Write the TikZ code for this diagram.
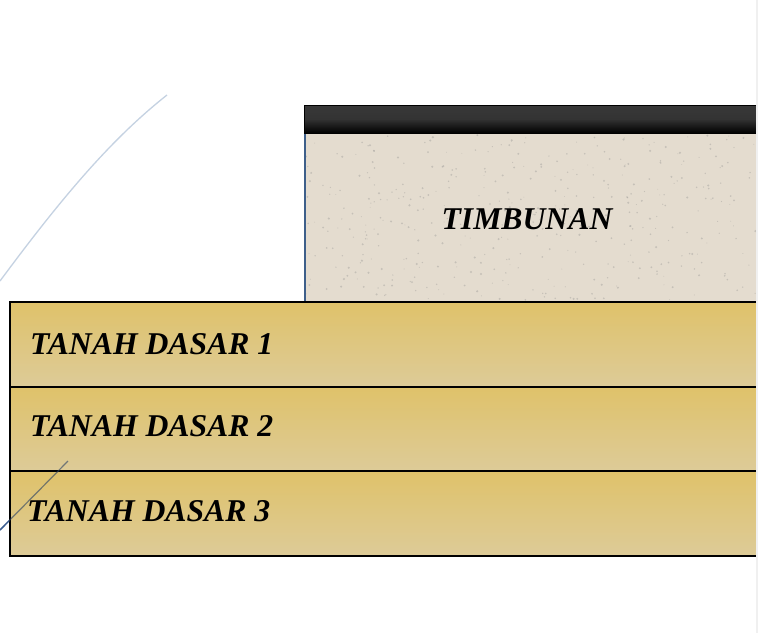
\documentclass[tikz,border=0pt]{standalone}
\usepackage{fontspec}
\setmainfont{Liberation Serif}
\begin{document}
\begin{tikzpicture}[x=1pt,y=-1pt,
  layer/.style={draw=black,line width=1.5pt,top color=layertop,bottom color=layerbot},
  lbl/.style={font=\fontsize{31.7}{31.7}\selectfont\bfseries\itshape,text=black,inner sep=0pt},
]
\definecolor{layertop}{HTML}{DFC26A}
\definecolor{layerbot}{HTML}{DDCB98}
\definecolor{beige}{HTML}{E4DCCF}
\definecolor{fillblue}{HTML}{3E5F8A}
\definecolor{paleblue}{HTML}{C5D2E2}
\definecolor{lineblue}{HTML}{3A5C90}
\useasboundingbox (0,0) rectangle (758,633);
\fill[white] (0,0) rectangle (758,633);
% decorative curve
\draw[paleblue,line width=1.3pt] (0,281) .. controls (60,200) and (110,140) .. (167,95);
% timbunan
\fill[beige] (304,133) rectangle (758,302);
\pgfmathsetseed{7}
\foreach \i in {1,...,420}{
  \pgfmathsetmacro{\px}{306+rnd*450}
  \pgfmathsetmacro{\py}{135+rnd*165}
  \pgfmathsetmacro{\pr}{0.4+rnd*0.8}
  \fill[black!45,opacity=0.35] (\px,\py) circle[radius=\pr];
}
\draw[fillblue,line width=2pt] (305,133) -- (305,302);
% black bar
\shade[top color=black!78,bottom color=black,middle color=black!80] (304,105) rectangle (758,133);
\draw[black,line width=1pt] (758,105) -- (304,105) -- (304,133) -- (758,133);
\node[lbl] (timb) at (527,219) {TIMBUNAN};
% layers
\path[layer] (10,302) rectangle (759,387);
\path[layer] (10,387) rectangle (759,471);
\path[layer] (10,471) rectangle (759,556);
\node[lbl,anchor=west] (td1) at (30,344) {TANAH DASAR 1};
\node[lbl,anchor=west] (td2) at (30,426) {TANAH DASAR 2};
\node[lbl,anchor=west] (td3) at (27,511) {TANAH DASAR 3};
% second decorative line
\coordinate (la) at (0,530);
\coordinate (lb) at (68,461);
\begin{scope}
  \clip (0,0) rectangle (9.3,633);
  \draw[lineblue,line width=1.5pt] (la) -- (lb);
\end{scope}
\begin{scope}
  \clip (9.3,0) rectangle (100,633);
  \draw[lineblue!70!black,line width=1.2pt,opacity=0.6] (la) -- (lb);
\end{scope}
% page edge strip
\fill[black!6] (756.3,0) rectangle (758,633);
\end{tikzpicture}
\end{document}
